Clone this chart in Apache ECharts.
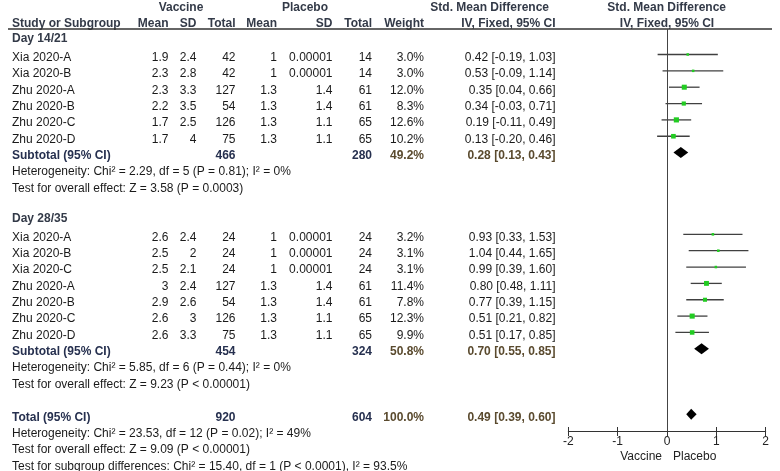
<!DOCTYPE html>
<html><head><meta charset="utf-8">
<script src="https://cdn.jsdelivr.net/npm/echarts@6/dist/echarts.min.js"></script>
<style>html,body{margin:0;padding:0;background:#fff}#c{width:780px;height:471px}</style>
</head><body><div id="c"></div>
<script>
// ---- Data ----
var studies1 = ['Xia 2020-A','Xia 2020-B','Zhu 2020-A','Zhu 2020-B','Zhu 2020-C','Zhu 2020-D'];
var vMean1 = ['1.9','2.3','2.3','2.2','1.7','1.7'];
var vSD1 = ['2.4','2.8','3.3','3.5','2.5','4'];
var vN1 = [42,42,127,54,126,75];
var pMean1 = ['1','1','1.3','1.3','1.3','1.3'];
var pSD1 = ['0.00001','0.00001','1.4','1.4','1.1','1.1'];
var pN1 = [14,14,61,61,65,65];
var w1 = [3.0,3.0,12.0,8.3,12.6,10.2];
var smd1 = [0.42,0.53,0.35,0.34,0.19,0.13];
var lo1 = [-0.19,-0.09,0.04,-0.03,-0.11,-0.20];
var hi1 = [1.03,1.14,0.66,0.71,0.49,0.46];
var sub1 = {vN:466, pN:280, w:49.2, est:0.28, lo:0.13, hi:0.43};

var studies2 = ['Xia 2020-A','Xia 2020-B','Xia 2020-C','Zhu 2020-A','Zhu 2020-B','Zhu 2020-C','Zhu 2020-D'];
var vMean2 = ['2.6','2.5','2.5','3','2.9','2.6','2.6'];
var vSD2 = ['2.4','2','2.1','2.4','2.6','3','3.3'];
var vN2 = [24,24,24,127,54,126,75];
var pMean2 = ['1','1','1','1.3','1.3','1.3','1.3'];
var pSD2 = ['0.00001','0.00001','0.00001','1.4','1.4','1.1','1.1'];
var pN2 = [24,24,24,61,61,65,65];
var w2 = [3.2,3.1,3.1,11.4,7.8,12.3,9.9];
var smd2 = [0.93,1.04,0.99,0.80,0.77,0.51,0.51];
var lo2 = [0.33,0.44,0.39,0.48,0.39,0.21,0.17];
var hi2 = [1.53,1.65,1.60,1.11,1.15,0.82,0.85];
var sub2 = {vN:454, pN:324, w:50.8, est:0.70, lo:0.55, hi:0.85};

var total = {vN:920, pN:604, w:100.0, est:0.49, lo:0.39, hi:0.60};

var groupNames = ['Day 14/21','Day 28/35'];
var notes1 = ['Heterogeneity: Chi\u00b2 = 2.29, df = 5 (P = 0.81); I\u00b2 = 0%','Test for overall effect: Z = 3.58 (P = 0.0003)'];
var notes2 = ['Heterogeneity: Chi\u00b2 = 5.85, df = 6 (P = 0.44); I\u00b2 = 0%','Test for overall effect: Z = 9.23 (P < 0.00001)'];
var notesT = ['Heterogeneity: Chi\u00b2 = 23.53, df = 12 (P = 0.02); I\u00b2 = 49%','Test for overall effect: Z = 9.09 (P < 0.00001)','Test for subgroup differences: Chi\u00b2 = 15.40, df = 1 (P < 0.0001), I\u00b2 = 93.5%'];
var xTicks = [-2,-1,0,1,2];
var favours = ['Vaccine','Placebo'];

// ---- Layout ----
var FONT = '"Liberation Sans", Arial, sans-serif';
var ROW0 = 41.15, STEP = 16.35, MARK_OFF = -3;
function rowY(r){ return ROW0 + STEP*r; }
var col = {name:12, vMean:168.5, vSD:196.5, vN:235.5, pMean:277, pSD:332.5, pN:372, w:424, ci:555.5};
var cNorm = '#1a1a1a', cHead = '#333a48', cSubL = '#26304f', cSubV = '#5a4a2e';

var gfx = [];
function txt(s, x, y, align, bold, color){
  gfx.push({type:'text', silent:true, style:{text:String(s), x:x, y:y, align:align, textAlign:align,
    verticalAlign:'middle', textVerticalAlign:'middle', fill:color||cNorm,
    font:(bold?'bold ':'')+'12px '+FONT}});
}
function ciStr(e,l,h){ return e.toFixed(2)+' ['+l.toFixed(2)+', '+h.toFixed(2)+']'; }

// headers
txt('Vaccine', 181, 7.5, 'center', true, cHead);
txt('Placebo', 305, 7.5, 'center', true, cHead);
txt('Std. Mean Difference', 489.7, 7.5, 'center', true, cHead);
txt('Std. Mean Difference', 666.7, 7.5, 'center', true, cHead);
txt('Study or Subgroup', col.name, 23.5, 'left', true, cHead);
txt('Mean', col.vMean, 23.5, 'right', true, cHead);
txt('SD', col.vSD, 23.5, 'right', true, cHead);
txt('Total', col.vN, 23.5, 'right', true, cHead);
txt('Mean', col.pMean, 23.5, 'right', true, cHead);
txt('SD', col.pSD, 23.5, 'right', true, cHead);
txt('Total', col.pN, 23.5, 'right', true, cHead);
txt('Weight', col.w, 23.5, 'right', true, cHead);
txt('IV, Fixed, 95% CI', col.ci, 23.5, 'right', true, cHead);
txt('IV, Fixed, 95% CI', 667, 23.5, 'center', true, cHead);
gfx.push({type:'line', silent:true, shape:{x1:8,y1:29,x2:772,y2:29}, style:{stroke:'#333', lineWidth:1.5}});

var ciData = [], sqData = [], dmData = [];
function group(start, gname, st, vM, vS, vN, pM, pS, pN, w, e, l, h, sub, notes){
  txt(gname, col.name, rowY(start)-2, 'left', true, cHead);
  for (var i=0;i<st.length;i++){
    var r = start+1+i, y = rowY(r);
    txt(st[i], col.name, y, 'left');
    txt(vM[i], col.vMean, y, 'right');
    txt(vS[i], col.vSD, y, 'right');
    txt(vN[i], col.vN, y, 'right');
    txt(pM[i], col.pMean, y, 'right');
    txt(pS[i], col.pSD, y, 'right');
    txt(pN[i], col.pN, y, 'right');
    txt(w[i].toFixed(1)+'%', col.w, y, 'right');
    txt(ciStr(e[i],l[i],h[i]), col.ci, y, 'right');
    ciData.push([l[i], h[i], r]);
    sqData.push([e[i], r, w[i]]);
  }
  var rs = start+1+st.length, ys = rowY(rs);
  txt('Subtotal (95% CI)', col.name, ys, 'left', true, cSubL);
  txt(sub.vN, col.vN, ys, 'right', true, cSubL);
  txt(sub.pN, col.pN, ys, 'right', true, cSubL);
  txt(sub.w.toFixed(1)+'%', col.w, ys, 'right', true, cSubV);
  txt(ciStr(sub.est,sub.lo,sub.hi), col.ci, ys, 'right', true, cSubV);
  dmData.push([sub.est, sub.lo, sub.hi, rs]);
  txt(notes[0], col.name, rowY(rs+1), 'left');
  txt(notes[1], col.name, rowY(rs+2), 'left');
  return rs+4;
}
var next = group(0, groupNames[0], studies1, vMean1, vSD1, vN1, pMean1, pSD1, pN1, w1, smd1, lo1, hi1, sub1, notes1);
next = group(next, groupNames[1], studies2, vMean2, vSD2, vN2, pMean2, pSD2, pN2, w2, smd2, lo2, hi2, sub2, notes2);
var rT = next;
var yT = rowY(rT);
txt('Total (95% CI)', col.name, yT, 'left', true, cSubL);
txt(total.vN, col.vN, yT, 'right', true, cSubL);
txt(total.pN, col.pN, yT, 'right', true, cSubL);
txt(total.w.toFixed(1)+'%', col.w, yT, 'right', true, cSubV);
txt(ciStr(total.est,total.lo,total.hi), col.ci, yT, 'right', true, cSubV);
dmData.push([total.est, total.lo, total.hi, rT]);
for (var k=0;k<notesT.length;k++) txt(notesT[k], col.name, rowY(rT+1+k), 'left');
txt(favours[0], 662, 457, 'right', false, '#222');
txt(favours[1], 673, 457, 'left', false, '#222');

// forest y-axis in row units: pixel = ROW0+MARK_OFF + STEP*r
var gTop = 29, gBottomPx = 431;
var yMin = (gTop - (ROW0+MARK_OFF))/STEP, yMax = (gBottomPx - (ROW0+MARK_OFF))/STEP;

var chart = echarts.init(document.getElementById('c'), null, {renderer:'canvas'});
chart.setOption({
  animation:false,
  textStyle:{fontFamily:FONT},
  grid:[{left:568.3, right:14.3, top:gTop, bottom:471-gBottomPx},
        {left:568.3, right:14.3, top:gTop, bottom:471-427}],
  xAxis:[
    {gridIndex:0, type:'value', min:-2, max:2, interval:1,
     axisLine:{show:true, onZero:false, lineStyle:{color:'#333', width:1}},
     axisTick:{show:false}, splitLine:{show:false},
     axisLabel:{fontSize:12, color:'#222', margin:5, fontFamily:FONT, formatter:function(v){return xTicks.indexOf(v)>=0?String(v):'';}}},
    {gridIndex:1, type:'value', min:-2, max:2, interval:1,
     axisLine:{show:false}, axisTick:{show:true, length:9, lineStyle:{color:'#333', width:1}},
     axisLabel:{show:false}, splitLine:{show:false}}
  ],
  yAxis:[
    {gridIndex:0, type:'value', inverse:true, min:yMin, max:yMax, show:false},
    {gridIndex:1, type:'value', show:false, min:0, max:1}
  ],
  series:[
    {type:'custom', xAxisIndex:0, yAxisIndex:0, data:ciData, silent:true,
     renderItem:function(p, api){
       var a = api.coord([api.value(0), api.value(2)]), b = api.coord([api.value(1), api.value(2)]);
       return {type:'line', shape:{x1:a[0], y1:a[1], x2:b[0], y2:b[1]}, style:{stroke:'#404040', lineWidth:1.3}};
     },
     markLine:{silent:true, symbol:['none','none'], label:{show:false},
       lineStyle:{color:'#444', width:1, type:'solid'}, data:[{xAxis:0}]}
    },
    {type:'scatter', xAxisIndex:0, yAxisIndex:0, data:sqData, symbol:'rect', silent:true,
     symbolSize:function(v){ return 1.45*Math.sqrt(v[2]); },
     itemStyle:{color:'#22cc22', opacity:1}},
    {type:'custom', xAxisIndex:0, yAxisIndex:0, data:dmData, silent:true,
     renderItem:function(p, api){
       var r = api.value(3);
       var l = api.coord([api.value(1), r]), h = api.coord([api.value(2), r]), c = api.coord([api.value(0), r]);
       return {type:'polygon', shape:{points:[[l[0],l[1]],[c[0],c[1]-5.5],[h[0],h[1]],[c[0],c[1]+5.5]]}, style:{fill:'#000'}};
     }}
  ],
  graphic:gfx
});
</script></body></html>
